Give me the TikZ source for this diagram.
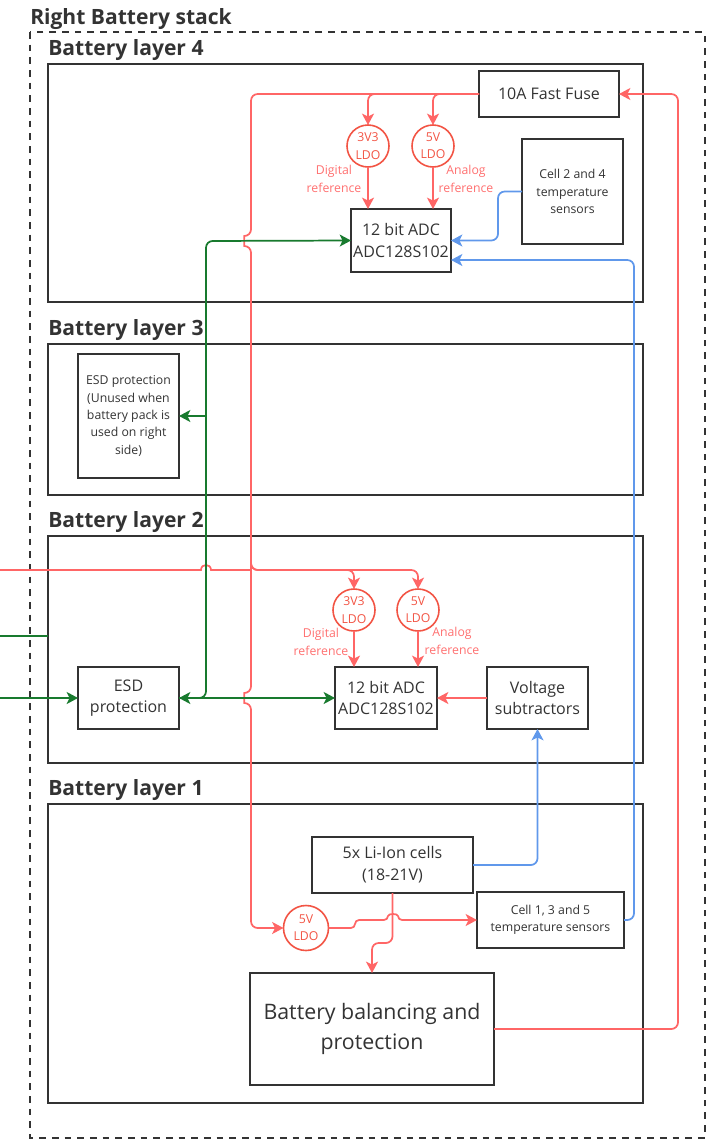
\documentclass[tikz,border=0pt]{standalone}
\usepackage{fontspec}
\setmainfont{Open Sans}
\usetikzlibrary{arrows.meta}

\definecolor{ink}{HTML}{333333}
\definecolor{wire}{RGB}{255,102,102}
\definecolor{ldoc}{RGB}{242,84,68}
\definecolor{lbl}{RGB}{255,112,112}
\definecolor{grn}{RGB}{24,122,46}
\definecolor{blu}{RGB}{96,152,235}

\newcommand\normsz{\fontsize{12}{16.3}\selectfont}
\newcommand\smallsz{\fontsize{9.2}{13}\selectfont}
\newcommand\headsz{\fontsize{15.8}{19}\selectfont\bfseries}
\newcommand\bigsz{\fontsize{16}{22}\selectfont}

\tikzset{
  pxsize/.style 2 args={minimum width=#1*0.75pt, minimum height=#2*0.75pt},
  part/.style={draw=ink, line width=1.5pt, inner sep=0pt, outer sep=0pt,
               align=center, text=ink, font=\normsz},
  layerbox/.style={draw=ink, line width=1.5pt, inner sep=0pt, outer sep=0pt},
  head/.style={inner sep=0pt, text=ink, font=\headsz, anchor=base west},
  ldo/.style={circle, draw=ldoc, line width=1.2pt, inner sep=0pt, outer sep=0pt,
              minimum size=42*0.75pt, align=center, text=ldoc, font=\smallsz},
  reflbl/.style={inner sep=0pt, align=center, text=lbl, font=\smallsz},
  rw/.style={draw=wire, line width=1.3pt},
  gw/.style={draw=grn, line width=1.3pt},
  bw/.style={draw=blu, line width=1.3pt},
}

\begin{document}
\begin{tikzpicture}[x=0.75pt, y=-0.75pt,
  >={Stealth[length=8.5pt, width=9pt, inset=2.2pt]}]
\useasboundingbox (0,0) rectangle (706,1139);

% stack outline
\draw[ink, line width=1.5pt, dash pattern=on 5pt off 4.5pt]
  (30,32) rectangle (704.5,1137.5);
\node[head] (stack) at (30,24) {Right Battery stack};

% layer frames and titles
\node[layerbox, pxsize={595}{238}] (l4) at (345.5,183) {};
\node[layerbox, pxsize={595}{151}] (l3) at (345.5,419.5) {};
\node[layerbox, pxsize={595}{227}] (l2) at (345.5,649.5) {};
\node[layerbox, pxsize={595}{299}] (l1) at (345.5,953.5) {};
\node[head] (h4) at (48,55) {Battery layer 4};
\node[head] (h3) at (48,335) {Battery layer 3};
\node[head] (h2) at (48,527) {Battery layer 2};
\node[head] (h1) at (48,795) {Battery layer 1};

% layer 4
\node[part, pxsize={140}{46}] (fuse) at (549,94) {10A Fast Fuse};
\node[part, pxsize={100}{63}] (adc4) at (401,240.5) {12 bit ADC\\ADC128S102};
\node[ldo] (ldo4a) at (368,146) {3V3\\LDO};
\node[ldo] (ldo4b) at (433,146) {5V\\LDO};
\node[part, pxsize={101}{105}, font=\smallsz] (temp24) at (572.5,191.5)
  {Cell 2 and 4\\temperature\\sensors};
\node[reflbl] (dref4) at (334,179) {Digital\\reference};
\node[reflbl] (aref4) at (466,179) {Analog\\reference};

% layer 3
\node[part, pxsize={101}{124}, font=\smallsz] (esd3) at (128.5,416)
  {ESD protection\\(Unused when\\battery pack is\\used on right\\side)};

% layer 2
\node[part, pxsize={101}{62}] (esd2) at (128.5,698) {ESD\\protection};
\node[part, pxsize={102}{62}] (adc2) at (386,698) {12 bit ADC\\ADC128S102};
\node[part, pxsize={101}{62}] (vsub) at (537.5,698) {Voltage\\subtractors};
\node[ldo] (ldo2a) at (354,610) {3V3\\LDO};
\node[ldo] (ldo2b) at (418,610) {5V\\LDO};
\node[reflbl] (dref2) at (321,642) {Digital\\reference};
\node[reflbl] (aref2) at (452,641) {Analog\\reference};

% layer 1
\node[part, pxsize={161}{56}] (cells) at (392.5,865) {5x Li-Ion cells\\(18-21V)};
\node[part, pxsize={147}{56}, font=\smallsz] (temp135) at (550.5,920)
  {Cell 1, 3 and 5\\temperature sensors};
\node[ldo, minimum size=45*0.75pt] (ldo1) at (306,928) {5V\\LDO};
\node[part, pxsize={244}{112}, font=\bigsz] (bal) at (372,1029)
  {Battery balancing and\\protection};

% wiring points
\coordinate (rtop) at (678,94);
\coordinate (rin) at (0,570);
\coordinate (rj2) at (251,570);
\coordinate (gtop) at (206,241);
\coordinate (gbr) at (206,416);
\coordinate (gin1) at (0,636);
\coordinate (gin2) at (0,698);
\coordinate (adc4in2) at (451,260);

% fused supply bus from the balancing board up to the fuse
\draw[rw, rounded corners=5, ->] (bal.east) -| (rtop) -- (fuse.east);

% fuse output down to the LDOs of layer 4
\draw[rw, rounded corners=5, ->] (fuse.west) -| (ldo4a.north);
\draw[rw, rounded corners=5, ->] (fuse.west) -| (ldo4b.north);
\draw[rw, ->] (ldo4a.south) -- (ldo4a.south |- adc4.north);
\draw[rw, ->] (ldo4b.south) -- (ldo4b.south |- adc4.north);

% fuse output down the stack to the layer 1 LDO (hops over green lines)
\draw[rw, rounded corners=5, ->] (fuse.west) -- (251,94) -- (251,236)
  .. controls (244.3,236) and (244.3,246) .. (251,246) -- (251,693)
  .. controls (244.3,693) and (244.3,703) .. (251,703) |- (ldo1.west);

% layer 2 supply
\draw[rw] (rin) -- (201,570) .. controls (201,563.3) and (211,563.3) .. (211,570) -- (rj2);
\draw[rw, rounded corners=5, ->] (251,555) -- (rj2) -| (ldo2a.north);
\draw[rw, rounded corners=5, ->] (251,555) -- (rj2) -| (ldo2b.north);
\draw[rw, ->] (ldo2a.south) -- (ldo2a.south |- adc2.north);
\draw[rw, ->] (ldo2b.south) -- (ldo2b.south |- adc2.north);
\draw[rw, ->] (vsub.west) -- (adc2.east);

% layer 1 power
\draw[rw, rounded corners=3, ->] (ldo1.east) -- (355,928) -- (355,920) -- (388,920)
  .. controls (388,913.3) and (398,913.3) .. (398,920) -- (temp135.west);
\draw[rw, rounded corners=5, ->] (cells.south) -- ++(0,50) -| (bal.north);

% data lines
\draw[gw, rounded corners=5, <->] (esd2.east) -| (gtop) -- (adc4.west);
\draw[gw, ->] (esd2.east) -- (adc2.west);
\draw[gw, ->] (gbr) -- (esd3.east);
\draw[gw] (gin1) -- (gin1 -| l2.west);
\draw[gw, ->] (gin2) -- (esd2.west);

% temperature and cell sense lines
\draw[bw, rounded corners=5, ->] (temp24.west) -- ++(-24,0) |- (adc4.east);
\draw[bw, rounded corners=5, ->] (temp135.east) -- ++(10,0) |- (adc4in2);
\draw[bw, rounded corners=5, ->] (cells.east) -| (vsub.south);
\end{tikzpicture}
\end{document}
